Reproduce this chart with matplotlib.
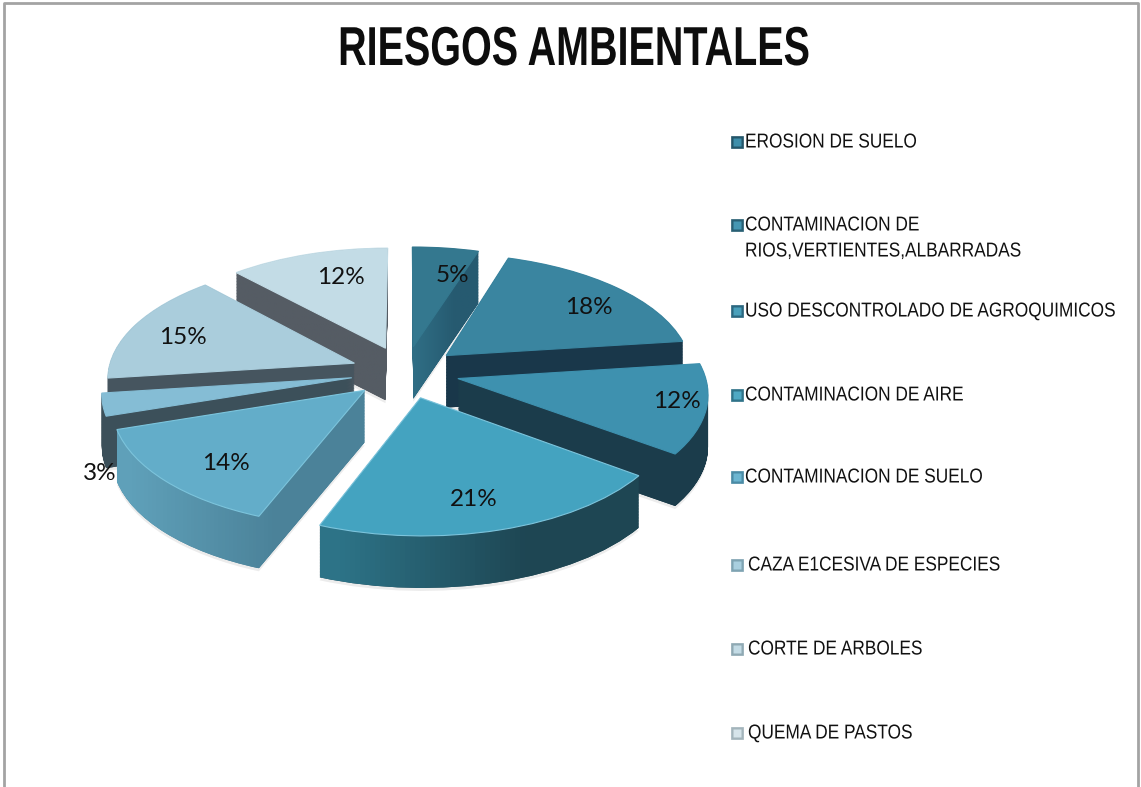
# -*- coding: utf-8 -*-
import matplotlib
matplotlib.use('Agg')
import matplotlib.pyplot as plt
import matplotlib.patheffects as pe
import numpy as np
from matplotlib.colors import to_rgb
from matplotlib.path import Path
from matplotlib.patches import PathPatch
from matplotlib.transforms import Affine2D, Transform

# datos
categorias = ['EROSION DE SUELO',
              'CONTAMINACION DE\nRIOS,VERTIENTES,ALBARRADAS',
              'USO DESCONTROLADO DE AGROQUIMICOS',
              'CONTAMINACION DE AIRE',
              'CONTAMINACION DE SUELO',
              'CAZA E1CESIVA DE ESPECIES',
              'CORTE DE ARBOLES',
              'QUEMA DE PASTOS']
valores = [5, 18, 12, 21, 14, 3, 15, 12]
etiquetas = ['5%', '18%', '12%', '21%', '14%', '3%', '15%', '12%']

# estilo
explode = [0.22] * 8
top_col = ['#34788f', '#3a85a0', '#3e91af', '#44a3c0', '#63adc9', '#85bdd5', '#aacddc', '#c3dce6']
wall_l = ['#2f6d84', '#19374a', '#1b3c4b', '#2d7387', '#5fa0b9', '#3c505a', '#46555f', '#555c64']
wall_r = ['#265a70', '#19374a', '#1b3c4b', '#1e4653', '#4b8299', '#3c505a', '#46555f', '#555c64']
ley_borde = ['#24566a', '#285f74', '#2b677f', '#2f7389', '#4a8ba5', '#7ea3b2', '#8fa9b3', '#a3b4bb']
ley_centro = ['#3f8fab', '#4597b3', '#4aa0bb', '#4fa9c4', '#6db6d1', '#a9cfdf', '#c3dbe5', '#d6e4ea']
pct_xy = [(452, 275), (589, 308), (677, 402), (474, 500), (226, 463), (100, 473), (183, 338), (341, 277)]
ley_y = [142, 225, 311, 395, 477, 565, 649, 733]
ley_tx = [745, 745, 745, 745, 745, 748, 748, 748]
DEPTH = 52
plt.rcParams['font.family'] = ['Liberation Sans', 'DejaVu Sans']


class Perspectiva(Transform):
    """unidad del pastel -> pixeles, el fondo un poco mas chico"""
    input_dims = 2
    output_dims = 2

    def __init__(self, dz=0):
        super().__init__()
        self.dz = dz

    def transform_non_affine(self, xy):
        xy = np.asarray(xy)
        s = 0.93 - 0.105 * xy[:, 1]
        px = 405 + 265 * xy[:, 0] * s
        py = 372 - 128 * xy[:, 1] * s + self.dz
        return np.column_stack([px, py])


class Angosto(pe.AbstractPathEffect):
    # Arial Narrow no esta instalada: se comprime el texto en horizontal
    def __init__(self, x0, sx):
        super().__init__()
        self.x0 = x0
        self.sx = sx

    def draw_path(self, renderer, gc, tpath, affine, rgbFace=None):
        a = affine + Affine2D().translate(-self.x0, 0).scale(self.sx, 1).translate(self.x0, 0)
        renderer.draw_path(gc, tpath, a, rgbFace)


def texto_angosto(ax, x, y, s, sx, centrado=False, **kw):
    t = ax.text(x, y, s, ha='center', va='center', **kw)
    x0 = x
    if not centrado:
        w = t.get_window_extent(fig.canvas.get_renderer()).width
        # la caja sin comprimir tiene que quedar dentro de la figura
        c = min(x + w * sx / 2, 1139 - w / 2)
        t.set_x(c)
        x0 = (x - sx * (c - w / 2)) / (1 - sx)
    t.set_path_effects([Angosto(ax.transData.transform((x0, y))[0], sx)])
    return t


def limites(ax):
    ax.set_xlim(0, 1141)
    ax.set_ylim(787, 0)
    ax.set_aspect('auto')
    ax.axis('off')


fig = plt.figure(figsize=(11.41, 7.87), dpi=100)
ax = fig.add_axes([0, 0, 1, 1])

# orden de atras hacia adelante
medios = np.cumsum(valores) - np.array(valores) / 2
orden = np.argsort(-np.cos(np.radians(medios * 3.6)))
zs = {int(i): 2 + 2 * n for n, i in enumerate(orden)}

# sombra muy suave debajo
ws, _ = ax.pie(valores, explode=explode, startangle=90, counterclock=False, colors=['#ececec'] * 8)
proj = Perspectiva(DEPTH + 3)
for w in ws:
    w.set_transform(proj + ax.transData)
    w.set_zorder(1.5)
    w.set_linewidth(0)

# paredes: capas apiladas, juntadas en un solo path para recortar el degradado
capas = [[] for _ in valores]
for dz in np.arange(DEPTH, 0, -0.75):
    ws, _ = ax.pie(valores, explode=explode, startangle=90, counterclock=False, colors=wall_r)
    proj = Perspectiva(dz)
    for i, w in enumerate(ws):
        w.set_transform(proj + ax.transData)
        w.set_zorder(zs[i])
        w.set_linewidth(0)
        capas[i].append(proj.transform_path(w.get_path()))
limites(ax)

for i, paths in enumerate(capas):
    comp = Path.make_compound_path(*paths)
    x0, x1 = comp.vertices[:, 0].min(), comp.vertices[:, 0].max()
    y0, y1 = comp.vertices[:, 1].min(), comp.vertices[:, 1].max()
    c0 = np.array(to_rgb(wall_l[i]))
    c1 = np.array(to_rgb(wall_r[i]))
    t = np.clip(np.linspace(-0.1, 1.6, 64), 0, 1)[:, None]
    img = (c0 + (c1 - c0) * t)[None, :, :]
    im = ax.imshow(img, extent=(x0, x1, y1, y0), aspect='auto', zorder=zs[i] + 0.5)
    im.set_clip_path(PathPatch(comp, transform=ax.transData))
limites(ax)

# caras superiores
ws, _ = ax.pie(valores, explode=explode, startangle=90, counterclock=False, colors=top_col)
proj = Perspectiva(0)
for i, w in enumerate(ws):
    w.set_transform(proj + ax.transData)
    w.set_zorder(zs[i] + 1)
    w.set_edgecolor('#7cc4dc' if i in (3, 4) else top_col[i])
    w.set_linewidth(0.8)
limites(ax)

for i, e in enumerate(etiquetas):
    ax.text(pct_xy[i][0], pct_xy[i][1], e, family=['Lato', 'DejaVu Sans'], fontsize=17.5,
            color='#111111', ha='center', va='center', zorder=30)

# marco
ax.plot([3.5, 3.5, 1137.5, 1137.5], [787, 2.5, 2.5, 787], color='#a3a3a3', lw=2, zorder=1)

texto_angosto(ax, 574, 51, 'RIESGOS AMBIENTALES', 0.72, centrado=True, fontsize=39.5,
              fontweight='bold', color='#0d0d0d', zorder=30)

# leyenda
for i, c in enumerate(categorias):
    for j, l in enumerate(c.split('\n')):
        texto_angosto(ax, ley_tx[i], ley_y[i] + j * 26, l, 0.858, fontsize=14.5,
                      color='#111111', zorder=30)
    ax.plot([737], [ley_y[i]], marker='s', ms=8, mfc=ley_borde[i], mec=ley_borde[i],
            mew=0.5, ls='none', zorder=30)
    ax.plot([737], [ley_y[i] - 0.5], marker='s', ms=5.5, mfc=ley_centro[i], mec='none', ls='none', zorder=31)

fig.savefig('out.png', dpi=100, facecolor='white')
